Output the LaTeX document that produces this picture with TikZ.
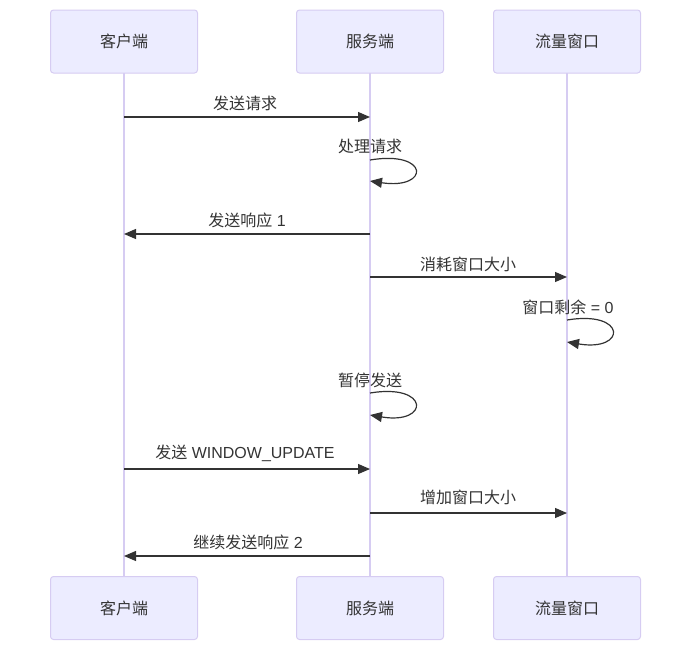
\documentclass[tikz,border=0pt]{standalone}
\usepackage{fontspec}
\setmainfont{Liberation Sans}
\newfontfamily\cjk{Noto Sans CJK SC}
\usetikzlibrary{arrows.meta}
\definecolor{actfill}{HTML}{ECECFF}
\definecolor{actline}{HTML}{D6CCF2}
\definecolor{txt}{HTML}{333333}
\begin{document}
\begin{tikzpicture}[x=1pt,y=-1pt,
  actor/.style={draw=actline,fill=actfill,rounded corners=3pt,line width=1pt,minimum width=147pt,minimum height=63pt,inner sep=0pt,font=\fontsize{16}{18}\selectfont\cjk,text=txt},
  life/.style={draw=actline,line width=1.4pt},
  msg/.style={draw=txt,line width=1.2pt,-{Triangle[length=12pt,width=10pt]}},
  lab/.style={font=\fontsize{16}{18}\selectfont,text=txt,inner sep=0pt}]
\useasboundingbox (0,0) rectangle (700,659);
% lifelines
\coordinate (c1) at (124,73); \coordinate (c2) at (124,577);
\coordinate (s1) at (370,73); \coordinate (s2) at (370,577);
\coordinate (w1) at (567,73); \coordinate (w2) at (567,577);
\draw[life] (c1) -- (c2);
\draw[life] (s1) -- (s2);
\draw[life] (w1) -- (w2);
% actors
\node[actor] (ct) at (124,41.5) {客户端};
\node[actor] (st) at (370,41.5) {服务端};
\node[actor] (wt) at (567,41.5) {流量窗口};
\node[actor] (cb) at (124,608) {客户端};
\node[actor] (sb) at (370,608) {服务端};
\node[actor] (wb) at (567,608) {流量窗口};
% message anchor points
\coordinate (m1a) at (124,117); \coordinate (m1b) at (370,117);
\coordinate (m3a) at (370,234); \coordinate (m3b) at (124,234);
\coordinate (m4a) at (370,277); \coordinate (m4b) at (567,277);
\coordinate (m7a) at (124,469); \coordinate (m7b) at (370,469);
\coordinate (m8a) at (370,513); \coordinate (m8b) at (567,513);
\coordinate (m9a) at (370,556); \coordinate (m9b) at (124,556);
\draw[msg] (m1a) -- (m1b);
\node[lab] (l1) at (245,103) {\cjk 发送请求};
% self loop 1
\coordinate (a2) at (370,160); \coordinate (b2) at (370,181);
\draw[msg] (a2) .. controls (430,150) and (430,190) .. (b2);
\node[lab] (l2) at (370,146) {\cjk 处理请求};
\draw[msg] (m3a) -- (m3b);
\node[lab] (l3) at (247,220) {{\cjk 发送响应} 1};
\draw[msg] (m4a) -- (m4b);
\node[lab] (l4) at (468,264) {\cjk 消耗窗口大小};
% self loop 2
\coordinate (a5) at (567,320); \coordinate (b5) at (567,342);
\draw[msg] (a5) .. controls (627,310) and (627,352) .. (b5);
\node[lab] (l5) at (568,307) {{\cjk 窗口剩余} = 0};
% self loop 3
\coordinate (a6) at (370,393); \coordinate (b6) at (370,415);
\draw[msg] (a6) .. controls (430,383) and (430,425) .. (b6);
\node[lab] (l6) at (370,380) {\cjk 暂停发送};
\draw[msg] (m7a) -- (m7b);
\node[lab] (l7) at (245,453) {{\cjk 发送} WINDOW\_UPDATE};
\draw[msg] (m8a) -- (m8b);
\node[lab] (l8) at (468,497) {\cjk 增加窗口大小};
\draw[msg] (m9a) -- (m9b);
\node[lab] (l9) at (248,542) {{\cjk 继续发送响应} 2};
\end{tikzpicture}
\end{document}
